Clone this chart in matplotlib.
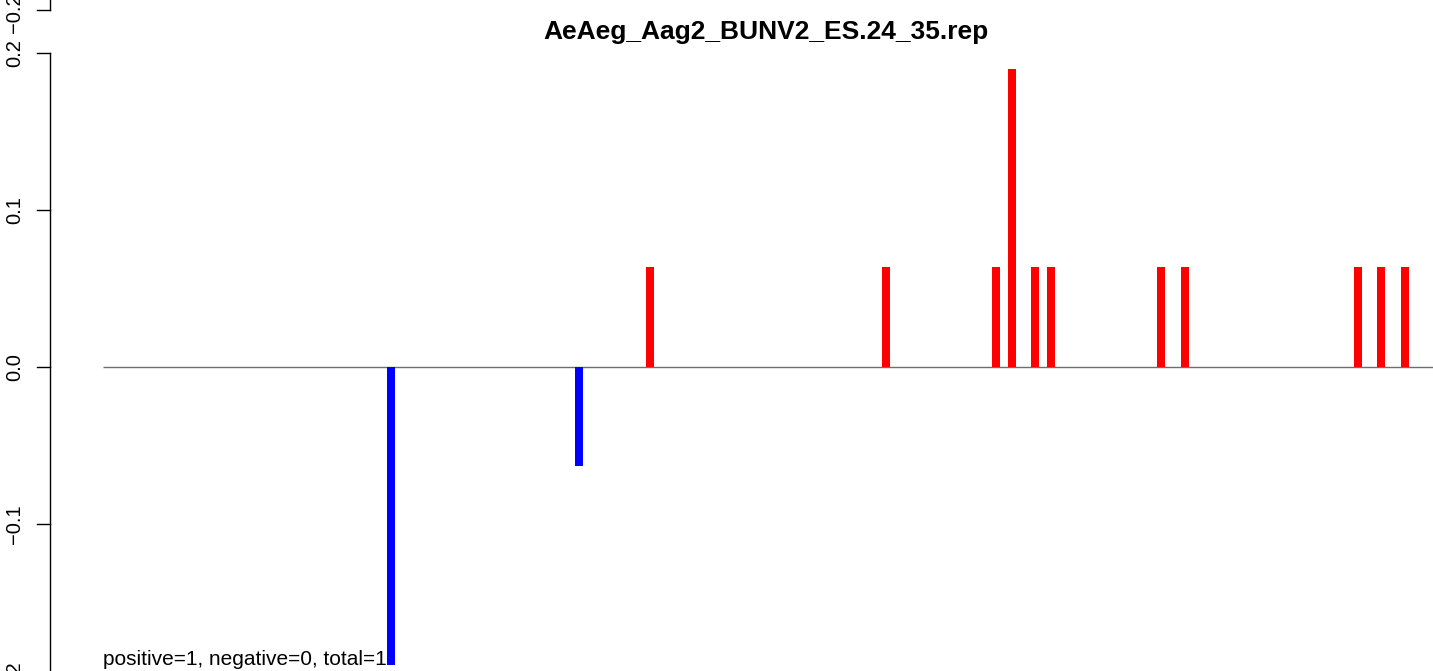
import matplotlib
matplotlib.use("Agg")
import matplotlib.pyplot as plt

plt.rcParams['font.family'] = ['Liberation Sans', 'DejaVu Sans']

# ---- data ----
title = "AeAeg_Aag2_BUNV2_ES.24_35.rep"
note = "positive=1, negative=0, total=1"
neg_pos = [391, 579]
neg_val = [-0.19, -0.063]
pos_pos = [650, 886, 996, 1012, 1035, 1051, 1161, 1185, 1358, 1381, 1405]
pos_val = [0.0635, 0.0635, 0.0635, 0.19, 0.0635, 0.0635, 0.0635, 0.0635, 0.0635, 0.0635, 0.0635]
yticks = [-0.2, -0.1, 0.0, 0.1, 0.2]
ytick_labels = ["\u22120.2", "\u22120.1", "0.0", "0.1", "0.2"]

W, H = 1433, 671
fig = plt.figure(figsize=(W / 100, H / 100), dpi=100)
ax = fig.add_axes([0, 0, 1, 1])
ax.set_axis_off()
ax.set_xlim(0, W)
ppu = 1570.0            # pixels per data unit
zero_px = 367.0
ytop = zero_px / ppu
ybot = -(H - zero_px) / ppu
ax.set_ylim(ybot, ytop)

# zero line
ax.plot([103, W], [0, 0], color="#6e6e6e", lw=1.0, solid_capstyle="butt", zorder=1)

# bars
ax.bar(neg_pos, neg_val, width=8, color="#0000ff", linewidth=0, zorder=2)
ax.bar(pos_pos, pos_val, width=8, color="#ff0000", linewidth=0, zorder=2)

# y axis
axis_x = 50
lab_x = 15
fs = 14.5
ax.plot([axis_x, axis_x], [yticks[0], yticks[-1]], color="black", lw=1.0, clip_on=False)
for t, lab in zip(yticks, ytick_labels):
    ax.plot([37, axis_x], [t, t], color="black", lw=1.0, clip_on=False)
    ax.text(lab_x, t, lab, rotation=90, ha="center", va="center", fontsize=fs, clip_on=False)

# remnant of the previous panel's axis above
prev_tick = ytop - 10 / ppu
ax.plot([axis_x, axis_x], [prev_tick, ytop + 0.01], color="black", lw=1.0, clip_on=False)
ax.plot([37, axis_x], [prev_tick, prev_tick], color="black", lw=1.0, clip_on=False)
ax.text(lab_x, prev_tick - 3 / ppu, "\u22120.2", rotation=90, ha="center", va="center", fontsize=fs, clip_on=False)

# title and note
fig.text(766 / W, 1 - 32 / H, title, ha="center", va="center", fontsize=19, fontweight="bold")
ax.text(103, -(665 - zero_px) / ppu, note, ha="left", va="baseline", fontsize=15)

fig.savefig("out.png", dpi=100)
